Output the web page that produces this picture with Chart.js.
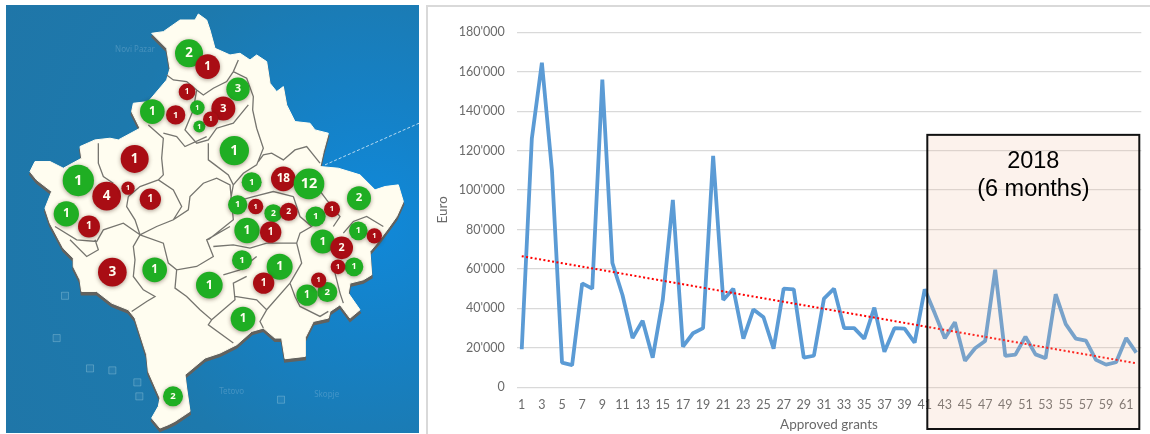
<!DOCTYPE html>
<html>
<head>
<meta charset="utf-8">
<title>Approved grants</title>
<script src="https://cdn.jsdelivr.net/npm/chart.js@4/dist/chart.umd.js"></script>
<style>
  html, body { margin: 0; padding: 0; background: #fff; overflow: hidden; }
  #mapBox { position: absolute; left: 6px; top: 5px; width: 413px; height: 428px;
    background: radial-gradient(circle at 88% 50%, #1089da 0%, #1581c6 28%, #1d79ad 62%, #1f76a8 100%); }
  #chartBox { position: absolute; left: 426px; top: 5px; width: 724px; height: 429px;
    border-left: 2px solid #d9d9d9; border-top: 2px solid #d9d9d9; box-sizing: border-box; }
  #mapChart { position: absolute; left: 0; top: 0; filter: blur(0.4px); }
  #grantChart { position: absolute; left: -2px; top: -2px; }
</style>
</head>
<body>
<div id="mapBox"><canvas id="mapChart" width="413" height="428"></canvas></div>
<div id="chartBox"><canvas id="grantChart" width="724" height="429"></canvas></div>
<script>
// Line chart data
const grantNumbers = ['1','2','3','4','5','6','7','8','9','10','11','12','13','14','15','16','17','18','19','20','21',
  '22','23','24','25','26','27','28','29','30','31','32','33','34','35','36','37','38','39','40','41','42',
  '43','44','45','46','47','48','49','50','51','52','53','54','55','56','57','58','59','60','61','62'];
const grantAmounts = [19300,126000,164600,110000,12500,11200,52700,50000,156000,63000,46800,25000,33800,15000,44300,95000,
  20600,27400,30000,117300,44300,50000,24700,39500,35500,19600,50000,49700,15000,16000,45000,50000,30000,30000,24700,40400,
  18000,30000,29800,22700,49700,37500,24900,33000,13400,19800,23500,59600,15900,16600,25700,16700,14700,47200,32000,24700,
  23700,13900,11500,12700,25000,17600];
const trendStart = 66500;
const trendEnd = 12200;
const yTicks = [0,20000,40000,60000,80000,100000,120000,140000,160000,180000];
const boxLines = ['2018', '(6 months)'];

// Map data, in map units
const outline = [[455,100],[490,95],[540,60],[585,60],[595,42],[620,60],[630,90],[645,145],[690,165],[720,160],[750,180],
  [770,165],[800,185],[810,250],[830,275],[850,260],[860,315],[885,365],[930,370],[945,390],[985,400],[970,455],[960,500],
  [1015,505],[1080,525],[1125,570],[1155,560],[1195,555],[1210,605],[1190,650],[1165,685],[1135,725],[1110,755],[1115,825],
  [1090,840],[1050,850],[1045,880],[1080,930],[1050,955],[1020,915],[990,935],[985,955],[940,965],[915,1015],[915,1070],
  [855,1077],[845,1015],[825,1015],[790,985],[755,995],[710,1035],[660,1060],[615,1075],[555,1125],[560,1165],[570,1235],
  [525,1265],[505,1275],[480,1285],[455,1255],[475,1220],[480,1195],[445,1115],[440,1065],[405,955],[385,930],[335,910],
  [290,875],[245,875],[240,840],[220,800],[220,775],[190,745],[150,670],[135,625],[155,575],[110,540],[90,515],[105,485],
  [150,485],[190,505],[245,475],[240,440],[285,420],[330,415],[355,420],[420,385],[395,335],[400,310],[445,305],[500,240],
  [510,205],[500,145],[455,100]];
const borders = [
  [[500,225],[520,240],[560,245],[590,270],[610,285],[640,265],[680,245],[700,215],[715,180]],
  [[700,215],[740,235],[760,290],[758,330],[770,385],[790,445],[770,495],[730,520],[700,555]],
  [[775,485],[790,465],[815,460],[850,480],[885,450],[920,440],[960,490]],
  [[445,375],[490,415],[485,475],[490,525],[475,540],[520,570],[545,620],[520,660],[470,680],[420,705],[405,660],[380,620],[385,590]],
  [[295,430],[295,490],[310,530],[340,550]],
  [[385,590],[420,560],[475,540]],
  [[165,680],[230,720],[290,725],[310,690],[370,670],[420,705]],
  [[285,720],[295,750],[260,770],[210,720]],
  [[420,705],[400,740],[405,780],[400,830],[430,870],[465,890],[440,905],[395,935]],
  [[420,705],[490,730],[505,790],[530,810],[590,800],[640,770],[620,720],[690,680]],
  [[490,400],[530,410],[555,440],[620,410]],
  [[520,660],[565,630],[570,590],[610,550],[650,535],[690,555],[700,660],[625,720]],
  [[530,810],[525,865],[560,890],[600,930],[635,960],[625,975],[700,1030]],
  [[635,960],[705,900],[700,850],[740,830]],
  [[705,890],[770,900],[800,930],[780,965],[790,985]],
  [[800,930],[870,850],[905,790],[890,730],[800,730],[750,745],[700,735],[640,740]],
  [[890,730],[900,700],[935,680],[900,650],[880,590]],
  [[870,850],[885,890],[900,920],[960,950],[985,935]],
  [[1000,800],[1020,880],[1030,910]],
  [[670,825],[720,810],[770,770]],
  [[1030,700],[1060,665],[1100,650],[1150,680]],
  [[1000,680],[1020,650],[980,600],[950,560]],
  [[590,270],[580,330],[555,390],[590,430],[625,420],[650,385],[700,370],[745,315]],
  [[625,430],[625,480],[645,495],[685,525],[700,555],[690,610]],
  [[690,610],[760,590],[820,575],[880,590]]
];
const roadLine = [[975,495],[1257,370]];
const roadSigns = [[195,888],[170,1015],[270,1106],[337,1112],[412,1148],[418,1190],[843,1200]];
const placeNames = [['Novi Pazar',405,150],['Tetovo',695,1175],['Skopje',980,1185]];

const bubbleX = [567,714,457,592,598,703,235,755,850,927,1077,713,820,947,199,741,1075,968,726,1062,839,464,628,982,921,729,519,
  623,561,527,670,632,404,320,384,451,767,866,996,267,812,1123,1025,1014,337,791,956];
const bubbleY = [160,268,335,323,380,452,542,547,537,552,595,615,640,650,642,692,693,725,781,801,801,810,856,877,886,958,1190,
  200,276,345,326,358,477,589,565,598,620,636,628,680,697,708,744,801,817,850,841];
const bubbleSize = [42,35,37,22,18,44,47,30,37,46,36,29,27,30,38,38,28,36,30,28,39,37,40,30,32,37,30,
  37,25,29,36,23,42,43,20,32,23,27,24,33,32,23,34,22,43,32,23];
const bubbleCount = ['2','3','1','1','1','1','1','1','18','12','2','1','2','1','1','1','1','1','1','1','1','1','1','2','1','1','2',
  '1','1','1','3','1','1','4','1','1','1','2','1','1','1','1','2','1','3','1','1'];
const bubbleApproved = [1,1,1,1,1,1,1,1,0,1,1,1,1,1,1,1,1,1,1,1,1,1,1,1,1,1,1,
  0,0,0,0,0,0,0,0,0,0,0,0,0,0,0,0,0,0,0,0];

// Map chart
const toPoints = list => list.map(p => ({ x: p[0], y: p[1] }));

const borderPoints = [];
borders.forEach(part => {
  borderPoints.push(...toPoints(part));
  borderPoints.push({ x: null, y: null });
});

const bubbleLabels = {
  id: 'bubbleLabels',
  beforeDatasetDraw(chart, args) {
    if (args.index !== 0) return;
    chart.ctx.save();
    chart.ctx.shadowColor = 'rgba(60,30,20,0.45)';
    chart.ctx.shadowBlur = 4;
    chart.ctx.shadowOffsetY = 1;
  },
  afterDatasetDraw(chart, args) {
    if (args.index !== 0) return;
    chart.ctx.restore();
  },
  afterDatasetsDraw(chart) {
    const ctx = chart.ctx;
    const x = chart.scales.x;
    const y = chart.scales.y;
    ctx.save();
    ctx.textAlign = 'center';
    ctx.textBaseline = 'middle';
    ctx.fillStyle = 'rgba(190,220,240,0.25)';
    ctx.font = '8px "Noto Sans"';
    placeNames.forEach(p => ctx.fillText(p[0], x.getPixelForValue(p[1]), y.getPixelForValue(p[2])));
    ctx.fillStyle = '#fffdf0';
    chart.getDatasetMeta(0).data.forEach((el, i) => {
      const size = Math.max(7, bubbleSize[i] / 3 * 0.95);
      ctx.font = 'bold ' + size + 'px "Noto Sans"';
      ctx.fillText(bubbleCount[i], el.x, el.y);
    });
    ctx.restore();
  }
};

new Chart(document.getElementById('mapChart').getContext('2d'), {
  type: 'scatter',
  data: {
    datasets: [
      {
        type: 'bubble',
        data: bubbleX.map((x, i) => ({ x: x, y: bubbleY[i], r: bubbleSize[i] / 3 })),
        backgroundColor: bubbleApproved.map(a => a ? '#1fae23' : '#a90d14'),
        borderWidth: 0,
        order: 0
      },
      {
        data: borderPoints,
        showLine: true,
        spanGaps: false,
        pointRadius: 0,
        borderColor: '#76756f',
        borderWidth: 1.3,
        order: 1
      },
      {
        data: toPoints(outline),
        showLine: true,
        pointRadius: 0,
        borderColor: '#fffdf0',
        borderWidth: 1,
        backgroundColor: '#fffdf0',
        fill: 'shape',
        order: 2
      },
      {
        data: outline.map(p => ({ x: p[0], y: p[1] + 9 })),
        showLine: true,
        pointRadius: 0,
        borderColor: '#62625f',
        borderWidth: 2,
        backgroundColor: '#62625f',
        fill: 'shape',
        order: 3
      },
      {
        data: toPoints(roadLine),
        showLine: true,
        pointRadius: 0,
        borderColor: 'rgba(225,240,250,0.8)',
        borderWidth: 1,
        borderDash: [3, 2],
        order: 4
      },
      {
        data: toPoints(roadSigns),
        pointStyle: 'rect',
        pointRadius: 5,
        backgroundColor: 'rgba(255,255,255,0.05)',
        borderColor: 'rgba(190,225,235,0.3)',
        borderWidth: 1,
        order: 5
      }
    ]
  },
  options: {
    responsive: false,
    animation: false,
    events: [],
    layout: { autoPadding: false, padding: 0 },
    plugins: { legend: { display: false }, tooltip: { enabled: false } },
    scales: {
      x: { type: 'linear', display: false, min: 18, max: 1257 },
      y: { type: 'linear', display: false, min: 15, max: 1300, reverse: true }
    }
  },
  plugins: [bubbleLabels]
});

// Box over the year 2018
const yearBox = {
  id: 'yearBox',
  afterDraw(chart) {
    const ctx = chart.ctx;
    const left = chart.scales.x.getPixelForValue(40) + 2.6;
    const right = chart.chartArea.right - 2;
    const top = chart.scales.y.getPixelForValue(128000);
    const bottom = chart.height - 5;
    ctx.save();
    ctx.fillStyle = 'rgba(240,190,160,0.2)';
    ctx.fillRect(left, top, right - left, bottom - top);
    ctx.strokeStyle = '#111';
    ctx.lineWidth = 2;
    ctx.strokeRect(left, top, right - left, bottom - top);
    ctx.fillStyle = '#000';
    ctx.font = '23.5px "Liberation Sans"';
    ctx.textAlign = 'center';
    ctx.textBaseline = 'middle';
    boxLines.forEach((line, i) => ctx.fillText(line, (left + right) / 2, top + 27 + i * 28));
    ctx.restore();
  }
};

const axisFont = { family: 'Lato', size: 12.5 };

new Chart(document.getElementById('grantChart').getContext('2d'), {
  type: 'line',
  data: {
    labels: grantNumbers,
    datasets: [
      {
        data: grantAmounts,
        borderColor: '#5b9bd5',
        borderWidth: 3.8,
        borderJoinStyle: 'bevel',
        pointRadius: 0,
        tension: 0,
        fill: false,
        order: 1
      },
      {
        data: grantNumbers.map((n, i) => i === 0 ? trendStart : (i === grantNumbers.length - 1 ? trendEnd : null)),
        spanGaps: true,
        borderColor: '#ff0000',
        borderWidth: 2,
        borderDash: [2, 2.4],
        pointRadius: 0,
        fill: false,
        order: 0
      }
    ]
  },
  options: {
    responsive: false,
    animation: false,
    events: [],
    layout: { autoPadding: false, padding: { top: 27.3, right: 8.7 } },
    plugins: { legend: { display: false }, tooltip: { enabled: false } },
    scales: {
      x: {
        offset: true,
        grid: { display: false, drawTicks: false },
        border: { display: false },
        afterFit: scale => { scale.height = 46.7; },
        ticks: {
          color: '#6a6a6a',
          font: axisFont,
          padding: 10,
          autoSkip: false,
          minRotation: 0,
          maxRotation: 0,
          callback: (value, index) => index % 2 === 0 ? grantNumbers[index] : ''
        },
        title: {
          display: true,
          text: 'Approved grants',
          color: '#6a6a6a',
          font: { family: 'Lato', size: 13.5 },
          padding: { top: 0, bottom: 1 }
        }
      },
      y: {
        min: 0,
        max: 180000,
        afterBuildTicks: scale => { scale.ticks = yTicks.map(v => ({ value: v })); },
        afterFit: scale => { scale.width = 90.7; },
        grid: { color: '#d9d9d9', lineWidth: 1.3, drawTicks: false },
        border: { display: false },
        ticks: {
          color: '#6a6a6a',
          font: axisFont,
          padding: 12,
          callback: value => value === 0 ? '0' : (value / 1000) + "'000"
        },
        title: {
          display: true,
          text: 'Euro',
          color: '#6a6a6a',
          font: { family: 'Lato', size: 13.5 },
          padding: { top: 9, bottom: 0 }
        }
      }
    }
  },
  plugins: [yearBox]
});
</script>
</body>
</html>
